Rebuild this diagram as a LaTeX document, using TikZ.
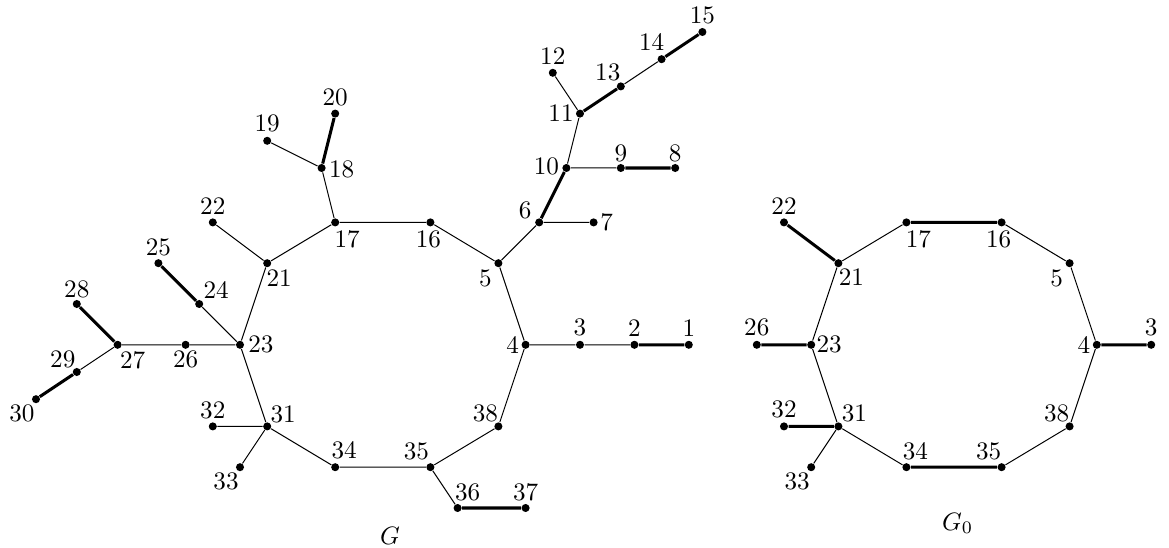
\documentclass[tikz,border=0pt]{standalone}
\begin{document}
\begin{tikzpicture}[x=0.19cm,y=-0.19cm,
  v/.style={circle,fill=black,inner sep=0pt,minimum size=3.2pt},
  lb/.style n args={3}{label={[inner sep=0pt,xshift={0.3975pt*(#1)},yshift={-0.3975pt*(#2)}]center:#3}},
  e/.style={line width=0.4pt},
  te/.style={line width=1.2pt}]
\useasboundingbox (-2.647,-2.353) rectangle (83.31,37.94);
% ---------- graph G ----------
\node[v,lb={0}{-17}{1}]   (g1)  at (48,23) {};
\node[v,lb={0}{-17}{2}]   (g2)  at (44,23) {};
\node[v,lb={0}{-17}{3}]   (g3)  at (40,23) {};
\node[v,lb={-13}{0}{4}]   (g4)  at (36,23) {};
\node[v,lb={-13}{15}{5}]  (g5)  at (34,17) {};
\node[v,lb={-14}{-12}{6}] (g6)  at (37,14) {};
\node[v,lb={13}{0}{7}]    (g7)  at (41,14) {};
\node[v,lb={0}{-15}{8}]   (g8)  at (47,10) {};
\node[v,lb={0}{-15}{9}]   (g9)  at (43,10) {};
\node[v,lb={-20}{-2}{10}] (g10) at (39,10) {};
\node[v,lb={-19}{0}{11}]  (g11) at (40,6) {};
\node[v,lb={0}{-17}{12}]  (g12) at (38,3) {};
\node[v,lb={-13}{-14}{13}] (g13) at (43,4) {};
\node[v,lb={-10}{-17}{14}] (g14) at (46,2) {};
\node[v,lb={0}{-17}{15}]  (g15) at (49,0) {};
\node[v,lb={-2}{17}{16}]  (g16) at (29,14) {};
\node[v,lb={12}{17}{17}]  (g17) at (22,14) {};
\node[v,lb={20}{1}{18}]   (g18) at (21,10) {};
\node[v,lb={0}{-17}{19}]  (g19) at (17,8) {};
\node[v,lb={0}{-16}{20}]  (g20) at (22,6) {};
\node[v,lb={12}{15}{21}]  (g21) at (17,17) {};
\node[v,lb={0}{-16}{22}]  (g22) at (13,14) {};
\node[v,lb={21}{0}{23}]   (g23) at (15,23) {};
\node[v,lb={17}{-14}{24}] (g24) at (12,20) {};
\node[v,lb={0}{-16}{25}]  (g25) at (9,17) {};
\node[v,lb={0}{15}{26}]   (g26) at (11,23) {};
\node[v,lb={15}{15}{27}]  (g27) at (6,23) {};
\node[v,lb={0}{-15}{28}]  (g28) at (3,20) {};
\node[v,lb={-14}{-13}{29}] (g29) at (3,25) {};
\node[v,lb={-14}{14}{30}] (g30) at (0,27) {};
\node[v,lb={16}{-12}{31}] (g31) at (17,29) {};
\node[v,lb={0}{-16}{32}]  (g32) at (13,29) {};
\node[v,lb={-14}{14}{33}] (g33) at (15,32) {};
\node[v,lb={9}{-17}{34}]  (g34) at (22,32) {};
\node[v,lb={-14}{-16}{35}] (g35) at (29,32) {};
\node[v,lb={10}{-16}{36}] (g36) at (31,35) {};
\node[v,lb={0}{-16}{37}]  (g37) at (36,35) {};
\node[v,lb={-13}{-13}{38}] (g38) at (34,29) {};
\node[anchor=base] (gname) at (26.03,37.72) {$G$};
% cycle and thin edges
\draw[e] (g4)--(g5) (g5)--(g16) (g16)--(g17) (g17)--(g21) (g21)--(g23)
  (g23)--(g31) (g31)--(g34) (g34)--(g35) (g35)--(g38) (g38)--(g4)
  (g4)--(g3) (g3)--(g2) (g5)--(g6) (g6)--(g7) (g10)--(g9) (g10)--(g11)
  (g11)--(g12) (g13)--(g14) (g17)--(g18) (g18)--(g19) (g21)--(g22)
  (g23)--(g24) (g23)--(g26) (g26)--(g27) (g27)--(g29) (g31)--(g32)
  (g31)--(g33) (g35)--(g36);
% thick edges
\draw[te] (g2)--(g1) (g6)--(g10) (g9)--(g8) (g11)--(g13) (g14)--(g15)
  (g18)--(g20) (g24)--(g25) (g27)--(g28) (g29)--(g30) (g36)--(g37);
% ---------- graph G0 ----------
\node[v,lb={0}{-17}{3}]   (h3)  at (82,23) {};
\node[v,lb={-13}{0}{4}]   (h4)  at (78,23) {};
\node[v,lb={-13}{15}{5}]  (h5)  at (76,17) {};
\node[v,lb={-3}{17}{16}]  (h16) at (71,14) {};
\node[v,lb={12}{17}{17}]  (h17) at (64,14) {};
\node[v,lb={13}{14}{21}]  (h21) at (59,17) {};
\node[v,lb={0}{-16}{22}]  (h22) at (55,14) {};
\node[v,lb={18}{0}{23}]   (h23) at (57,23) {};
\node[v,lb={0}{-17}{26}]  (h26) at (53,23) {};
\node[v,lb={16}{-13}{31}] (h31) at (59,29) {};
\node[v,lb={0}{-17}{32}]  (h32) at (55,29) {};
\node[v,lb={-14}{14}{33}] (h33) at (57,32) {};
\node[v,lb={9}{-16}{34}]  (h34) at (64,32) {};
\node[v,lb={-13}{-16}{35}] (h35) at (71,32) {};
\node[v,lb={-13}{-13}{38}] (h38) at (76,29) {};
\node[anchor=base] (hname) at (67.76,36.62) {$G_0$};
\draw[e] (h4)--(h5) (h5)--(h16) (h17)--(h21) (h21)--(h23) (h23)--(h31)
  (h31)--(h34) (h35)--(h38) (h38)--(h4) (h31)--(h33);
\draw[te] (h17)--(h16) (h34)--(h35) (h21)--(h22) (h23)--(h26) (h4)--(h3)
  (h31)--(h32);
\end{tikzpicture}
\end{document}
